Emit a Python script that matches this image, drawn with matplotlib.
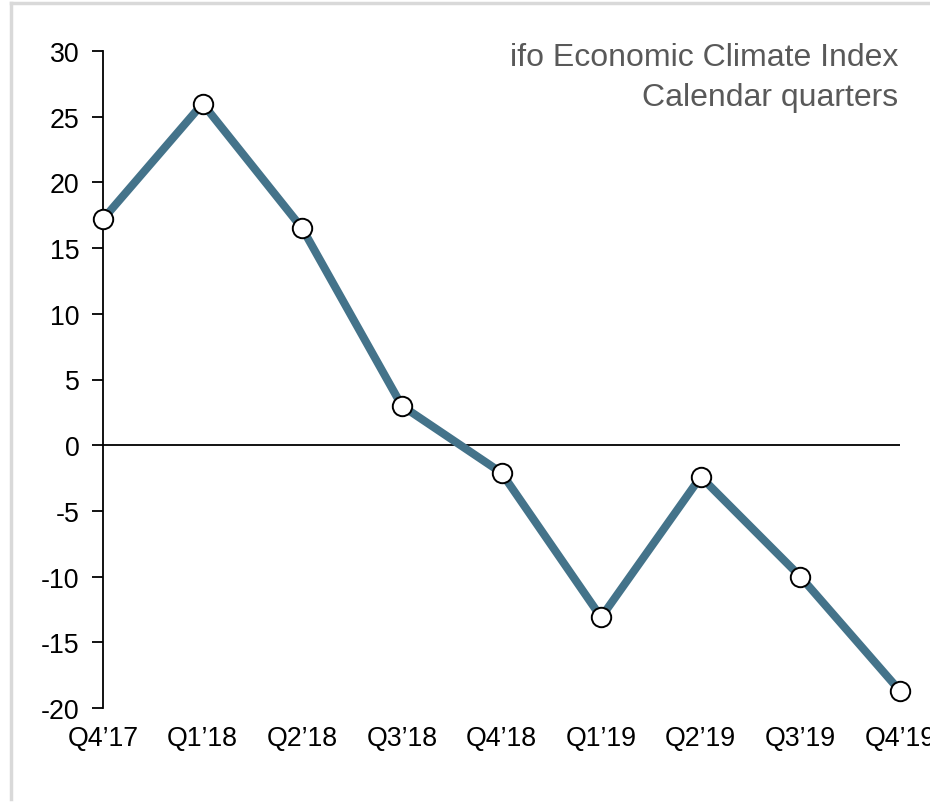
import matplotlib.pyplot as plt
from matplotlib.lines import Line2D

plt.rcParams['font.family'] = ['Liberation Sans', 'DejaVu Sans']
plt.rcParams['axes.unicode_minus'] = False

quarters = ['Q4\u201917', 'Q1\u201918', 'Q2\u201918', 'Q3\u201918', 'Q4\u201918',
            'Q1\u201919', 'Q2\u201919', 'Q3\u201919', 'Q4\u201919']
climate = [17.2, 26.0, 16.5, 3.0, -2.1, -13.1, -2.4, -10.0, -18.7]
y_ticks = [30, 25, 20, 15, 10, 5, 0, -5, -10, -15, -20]

W, H = 930, 804
fig = plt.figure(figsize=(W / 100, H / 100), dpi=100)
ax = fig.add_axes([103 / W, 1 - 709 / H, (900 - 103) / W, (709 - 52) / H])

x = list(range(len(quarters)))
ax.axhline(0, color='black', linewidth=1.3, zorder=1)
ax.plot(x, climate, color='#44738a', linewidth=5.8, solid_capstyle='butt',
        marker='o', markersize=14, markerfacecolor='white',
        markeredgecolor='black', markeredgewidth=1.4, clip_on=False, zorder=3)

ax.set_xlim(0, len(quarters) - 1)
ax.set_ylim(-20, 30)
ax.set_yticks(y_ticks)
ax.set_xticks(x)
ax.set_xticklabels(quarters)

for side in ['top', 'right', 'bottom']:
    ax.spines[side].set_visible(False)
ax.spines['left'].set_linewidth(1.3)
ax.tick_params(axis='y', direction='out', length=8, width=1.3, labelsize=19.3, pad=9)
ax.tick_params(axis='x', length=0, labelsize=19.3, pad=12)

# heading, right aligned at the plot's right edge
fig.text(898 / W, 1 - 66 / H, 'ifo Economic Climate Index', ha='right',
         va='baseline', fontsize=23, color='#595959')
fig.text(898 / W, 1 - 106 / H, 'Calendar quarters', ha='right',
         va='baseline', fontsize=23, color='#595959')

# light card outline along top and left edges
fig.add_artist(Line2D([11 / W, 11 / W], [1 - 800 / H, 1 - 4 / H],
                      transform=fig.transFigure, color='#d9d9d9', linewidth=2.5))
fig.add_artist(Line2D([11 / W, 1.0], [1 - 4 / H, 1 - 4 / H],
                      transform=fig.transFigure, color='#d9d9d9', linewidth=2.5))

fig.savefig('out.png', dpi=100)
